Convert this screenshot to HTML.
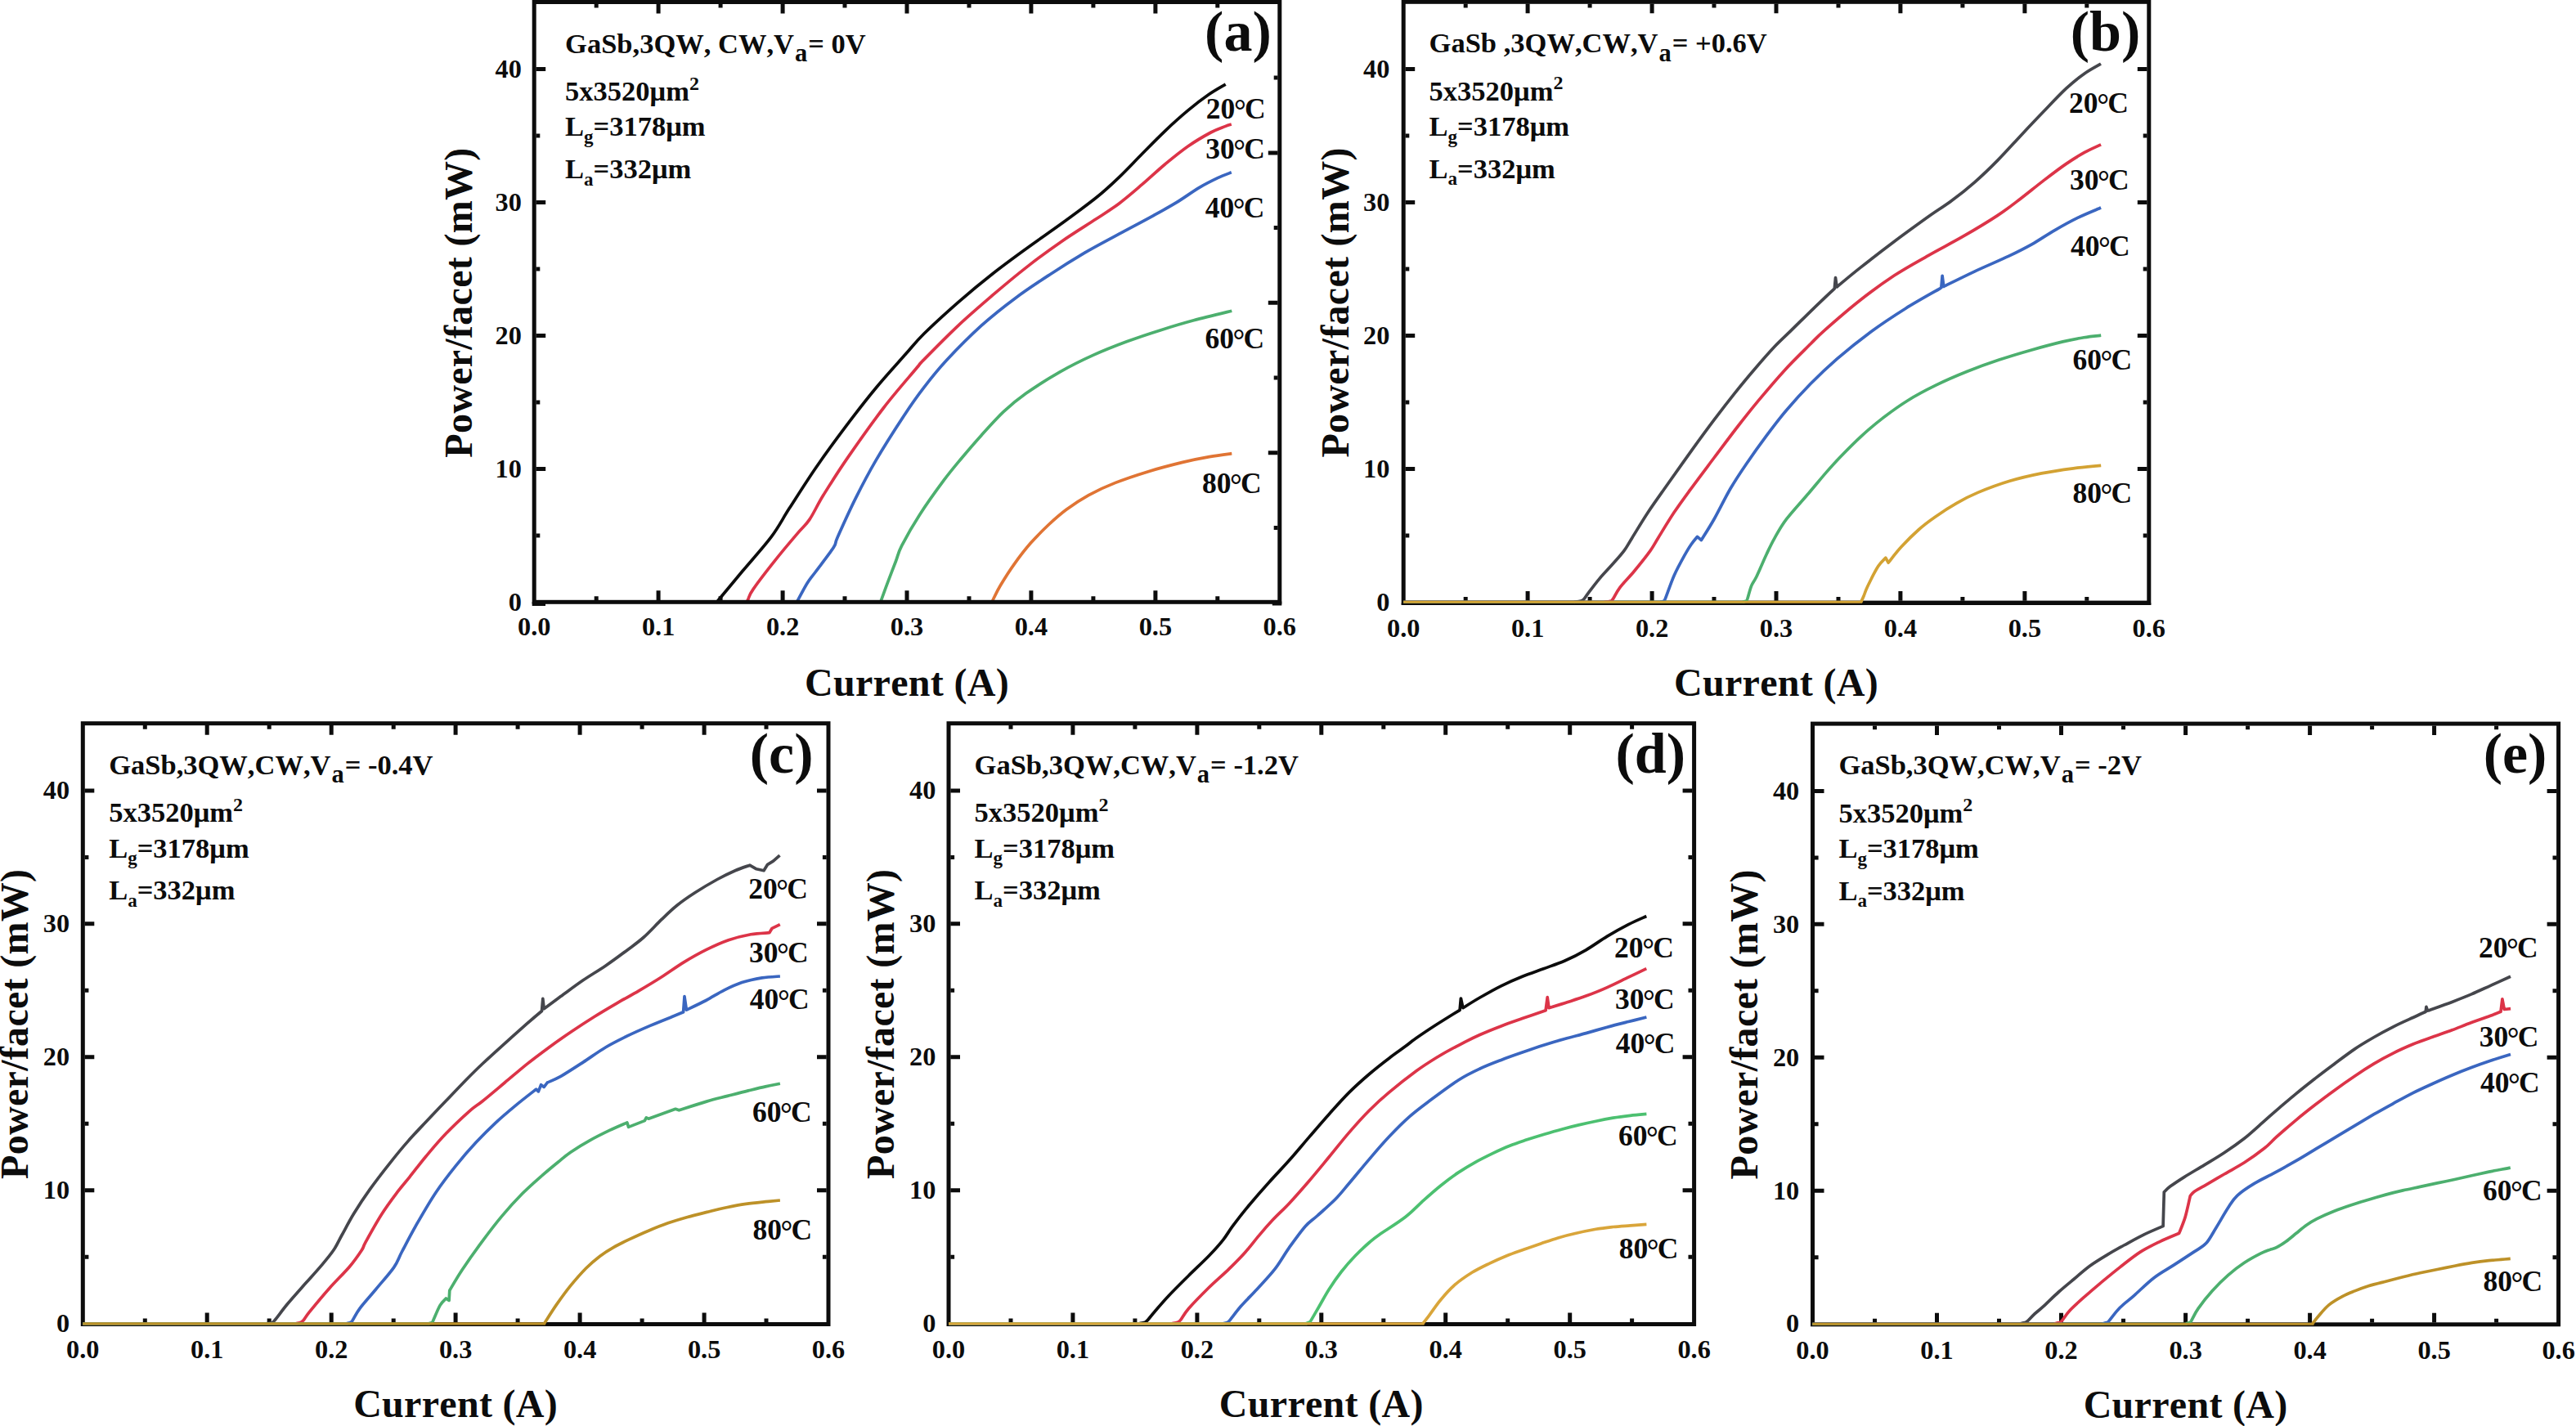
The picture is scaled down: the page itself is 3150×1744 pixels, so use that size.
<!DOCTYPE html>
<html lang="en"><head><meta charset="utf-8"><title>Power/facet versus current at several temperatures</title>
<style>html,body{margin:0;padding:0;background:#fff}body{width:3150px;height:1744px;overflow:hidden}svg{display:block}text{font-kerning:none}</style>
</head><body>
<svg width="3150" height="1744" viewBox="0 0 3150 1744" role="img" aria-label="Power per facet versus current, five panels">
<rect width="3150" height="1744" fill="#fff"/>
<g id="panel-a">
<g fill="none" stroke-width="3.7" stroke-linejoin="round" stroke-linecap="butt">
<path stroke="#0c0c0c" d="M877.6 735C882.6 729 896.8 711.9 907.7 698.8C918.7 685.7 933.7 669.2 943.3 656.4C952.9 643.5 956.3 635.6 965.3 621.6C974.3 607.7 985.8 589.3 997.2 572.7C1008.7 556.1 1021.7 538.2 1034 521.9C1046.3 505.5 1058.6 489.5 1070.9 474.7C1083.2 459.8 1097.9 443.9 1107.7 432.8C1117.5 421.7 1119.3 418.6 1130 408C1140.7 397.4 1158.1 381.6 1172.1 369.3C1186.1 357.1 1200.2 345.5 1214.2 334.5C1228.2 323.5 1242.2 313.4 1256.2 303.2C1270.2 293 1284.3 283.5 1298.3 273.3C1312.3 263.1 1328.7 251.2 1340.4 241.8C1352.1 232.4 1359.1 225.7 1368.4 216.8C1377.8 207.9 1387.2 197.6 1396.5 188.2C1405.8 178.8 1415.2 169.2 1424.5 160.3C1433.8 151.5 1443.7 142.6 1452.6 135.2C1461.5 127.7 1470.1 121.1 1477.8 115.8C1485.5 110.4 1495.2 105.2 1498.7 103.1"/>
<path stroke="#dc3448" d="M913.7 735.5C913.9 735 913.8 735.1 915 732.5C916.2 730 915.7 728.3 921.2 720.4C926.7 712.4 939.2 696.2 948.2 684.9C957.2 673.5 968.2 660.6 975.2 652.4C982.2 644.1 984.6 643.3 989.9 635.4C995.2 627.6 999.2 617.9 1007 605.3C1014.8 592.8 1024.2 577.7 1036.5 559.9C1048.8 542.1 1066.8 516.6 1080.7 498.5C1094.6 480.4 1111.7 461.1 1119.9 451.3C1128.1 441.5 1121.3 448.5 1130 439.6C1138.7 430.7 1158.1 411 1172.1 397.8C1186.1 384.7 1200.2 372.7 1214.2 360.7C1228.2 348.7 1242.2 337 1256.2 326.1C1270.2 315.1 1284.3 304.9 1298.3 295.2C1312.3 285.5 1328.7 275.5 1340.4 267.8C1352.1 260.1 1359.1 255.9 1368.4 248.9C1377.8 241.8 1387.2 233.6 1396.5 225.7C1405.8 217.7 1415.2 208.8 1424.5 201C1433.8 193.3 1443.2 185.5 1452.6 179C1461.9 172.5 1473 166.1 1480.6 162C1488.2 157.9 1493.8 156.3 1498 154.6C1502.2 152.9 1504.5 152.4 1505.8 152"/>
<path stroke="#3a66c0" d="M975 735.5C975.2 735 974.3 736.4 976.4 732.6C978.5 728.8 983.9 718.2 987.4 712.7C990.9 707.2 991.9 706.6 997.2 699.5C1002.5 692.3 1014.8 676.7 1019.3 669.6C1023.8 662.5 1019.7 666.9 1024.2 656.9C1028.7 646.8 1038.5 624.9 1046.3 609.3C1054.1 593.8 1061.1 580.2 1070.9 563.4C1080.7 546.6 1095.4 523.6 1105.2 508.7C1115 493.7 1121.2 485 1130 473.6C1138.8 462.1 1146.3 452.6 1158 440C1169.7 427.5 1186.1 410.9 1200.1 398.2C1214.1 385.6 1228.2 374.6 1242.2 364.2C1256.2 353.7 1270.3 344.6 1284.3 335.5C1298.3 326.3 1312.4 317.5 1326.4 309.2C1340.4 301 1354.4 293.8 1368.4 286.2C1382.4 278.6 1398.8 270.1 1410.5 263.6C1422.2 257.2 1429.2 253.4 1438.6 247.7C1447.9 242 1458.2 234.4 1466.6 229.4C1475 224.4 1482.5 220.8 1489 217.7C1495.5 214.6 1503 211.9 1505.8 210.8"/>
<path stroke="#4caf6e" d="M1077 735.5C1077.2 735 1076.8 736.3 1078.2 732.4C1079.6 728.5 1082.7 719.7 1085.6 712.1C1088.5 704.4 1092.5 694 1095.4 686.5C1098.3 679 1097.9 676.7 1102.8 667.2C1107.7 657.6 1116.2 642.5 1124.8 629.2C1133.4 615.9 1145.7 598.8 1154.3 587.2C1162.9 575.7 1168.8 568.9 1176.4 559.7C1184 550.6 1191.5 541.8 1200 532.4C1208.5 523 1218.2 512 1227.3 503.4C1236.4 494.9 1243.3 489.2 1254.7 481.1C1266.1 473.1 1282 462.9 1295.7 455.1C1309.4 447.3 1323 440.6 1336.7 434.4C1350.4 428.2 1364 422.9 1377.7 417.8C1391.4 412.7 1405 408.2 1418.7 403.9C1432.4 399.6 1445.1 395.7 1459.7 391.8C1474.3 387.8 1498.5 382.1 1506.3 380.2"/>
<path stroke="#e07434" d="M1213.5 735.5C1213.8 734.9 1213.4 735.2 1215 732C1216.6 728.8 1218.9 723.4 1223.2 716.2C1227.5 709 1234.8 697.4 1241 688.8C1247.2 680.2 1253.4 672.1 1260.2 664.3C1267 656.6 1274.7 648.9 1282 642C1289.3 635.2 1295.7 629.4 1303.9 623.3C1312.1 617.2 1321.2 611.1 1331.2 605.6C1341.2 600.1 1351.7 595.2 1364 590.4C1376.3 585.5 1391.3 580.6 1405 576.4C1418.7 572.3 1433.8 568.4 1446.1 565.4C1458.4 562.4 1468.9 560.3 1478.9 558.6C1488.9 556.8 1501.7 555.3 1506.3 554.7"/>
</g>
<rect x="653.2" y="2.5" width="911.6" height="733.8" fill="none" stroke="#0c0c0c" stroke-width="5"/>
<path d="M729.2 734v-4.8M729.2 4.8v4.8M805.1 734v-11.7M805.1 4.8v11.7M881.1 734v-4.8M881.1 4.8v4.8M957.1 734v-11.7M957.1 4.8v11.7M1033 734v-4.8M1033 4.8v4.8M1109 734v-11.7M1109 4.8v11.7M1185 734v-4.8M1185 4.8v4.8M1260.9 734v-11.7M1260.9 4.8v11.7M1336.9 734v-4.8M1336.9 4.8v4.8M1412.9 734v-11.7M1412.9 4.8v11.7M1488.8 734v-4.8M1488.8 4.8v4.8M655.5 654.9h4.8M655.5 573.4h11.7M655.5 492h4.8M655.5 410.5h11.7M655.5 329h4.8M655.5 247.5h11.7M655.5 166.1h4.8M655.5 84.6h11.7M1562.5 645.5h-4.8M1562.5 553.7h-11.7M1562.5 462h-4.8M1562.5 370.3h-11.7M1562.5 278.6h-4.8M1562.5 186.9h-11.7M1562.5 95.1h-4.8M650.7 738.4h16.3M1567.3 738h-11.5" fill="none" stroke="#0c0c0c" stroke-width="5"/>
<g font-family="'Liberation Serif',serif" font-weight="bold" font-size="32.3" fill="#0c0c0c">
<text x="653.2" y="776.8" text-anchor="middle">0.0</text>
<text x="805.1" y="776.8" text-anchor="middle">0.1</text>
<text x="957.1" y="776.8" text-anchor="middle">0.2</text>
<text x="1109" y="776.8" text-anchor="middle">0.3</text>
<text x="1260.9" y="776.8" text-anchor="middle">0.4</text>
<text x="1412.9" y="776.8" text-anchor="middle">0.5</text>
<text x="1564.8" y="776.8" text-anchor="middle">0.6</text>
<text x="637.9" y="746.6" text-anchor="end">0</text>
<text x="637.9" y="583.6" text-anchor="end">10</text>
<text x="637.9" y="420.7" text-anchor="end">20</text>
<text x="637.9" y="257.7" text-anchor="end">30</text>
<text x="637.9" y="94.8" text-anchor="end">40</text>
</g>
<text font-family="'Liberation Serif',serif" font-weight="bold" font-size="48" fill="#0c0c0c" x="1109" y="851" text-anchor="middle" letter-spacing="0.3">Current (A)</text>
<text font-family="'Liberation Serif',serif" font-weight="bold" font-size="48" fill="#0c0c0c" transform="translate(577.2 370.1) rotate(-90)" text-anchor="middle" letter-spacing="0.3">Power/facet (mW)</text>
<g font-family="'Liberation Serif',serif" font-weight="bold" font-size="34.5" fill="#0c0c0c">
<text x="691.1" y="64.5">GaSb,3QW, CW,V<tspan dx="1" dy="10.3" font-size="30.5">a</tspan><tspan dx="1" dy="-10.3">= 0V</tspan></text>
<text x="691.1" y="122.9">5x3520μm<tspan dy="-13.4" font-size="24">2</tspan></text>
<text x="691.1" y="166.4">L<tspan dy="8.5" font-size="23">g</tspan><tspan dy="-8.5">=3178μm</tspan></text>
<text x="691.1" y="218">L<tspan dy="8.5" font-size="23">a</tspan><tspan dy="-8.5">=332μm</tspan></text>
</g>
<g font-family="'Liberation Serif',serif" font-weight="bold" font-size="35.5" fill="#0c0c0c">
<text x="1474.8" y="144.8">20<tspan dx="-1.4" dy="3.0" font-size="37">°</tspan><tspan dx="-1.8" dy="-3.0">C</tspan></text>
<text x="1474.2" y="194.2">30<tspan dx="-1.4" dy="3.0" font-size="37">°</tspan><tspan dx="-1.8" dy="-3.0">C</tspan></text>
<text x="1473.7" y="265.8">40<tspan dx="-1.4" dy="3.0" font-size="37">°</tspan><tspan dx="-1.8" dy="-3.0">C</tspan></text>
<text x="1473.4" y="426.3">60<tspan dx="-1.4" dy="3.0" font-size="37">°</tspan><tspan dx="-1.8" dy="-3.0">C</tspan></text>
<text x="1469.9" y="602.8">80<tspan dx="-1.4" dy="3.0" font-size="37">°</tspan><tspan dx="-1.8" dy="-3.0">C</tspan></text>
</g>
<text font-family="'Liberation Serif',serif" font-weight="bold" font-size="70" fill="#0c0c0c" x="1473.1" y="61.8">(a)</text>
</g>
<g id="panel-b">
<rect x="1716.2" y="2.3" width="911.6" height="734.8" fill="none" stroke="#0c0c0c" stroke-width="5"/>
<path d="M1713.7 738.7H2630.3" fill="none" stroke="#0c0c0c" stroke-width="2.6"/>
<path d="M1792.2 734.8v-4.8M1792.2 4.6v4.8M1868.1 734.8v-11.7M1868.1 4.6v11.7M1944.1 734.8v-4.8M1944.1 4.6v4.8M2020.1 734.8v-11.7M2020.1 4.6v11.7M2096 734.8v-4.8M2096 4.6v4.8M2172 734.8v-11.7M2172 4.6v11.7M2248 734.8v-4.8M2248 4.6v4.8M2323.9 734.8v-11.7M2323.9 4.6v11.7M2399.9 734.8v-4.8M2399.9 4.6v4.8M2475.9 734.8v-11.7M2475.9 4.6v11.7M2551.8 734.8v-4.8M2551.8 4.6v4.8M1718.5 654.9h4.8M2625.5 654.9h-4.8M1718.5 573.4h11.7M2625.5 573.4h-11.7M1718.5 492h4.8M2625.5 492h-4.8M1718.5 410.5h11.7M2625.5 410.5h-11.7M1718.5 329h4.8M2625.5 329h-4.8M1718.5 247.5h11.7M2625.5 247.5h-11.7M1718.5 166.1h4.8M2625.5 166.1h-4.8M1718.5 84.6h11.7M2625.5 84.6h-11.7" fill="none" stroke="#0c0c0c" stroke-width="5"/>
<g fill="none" stroke-width="3.7" stroke-linejoin="round" stroke-linecap="butt">
<path stroke="#45464c" stroke-width="2.9" d="M1716.2 736.2H1926.5"/>
<path stroke="#45464c" d="M1925 736.3C1926.3 736.1 1931 735.6 1933 735C1935 734.4 1935.1 734.6 1936.8 732.8C1938.5 731.1 1939.6 728.6 1942.9 724.3C1946.2 720 1951.7 712.7 1956.4 707.1C1961.1 701.5 1966.3 696.3 1971.2 690.8C1976.1 685.2 1981.8 679.1 1985.9 673.6C1990 668.2 1990.8 665.8 1995.7 657.9C2000.6 650.1 2007.9 637.7 2015.3 626.5C2022.7 615.4 2030.9 604.1 2039.9 591.3C2048.9 578.6 2059.9 563 2069.3 549.9C2078.7 536.9 2087.7 524.6 2096.3 513.2C2104.9 501.7 2112.7 491.6 2120.9 481.3C2129.1 471.1 2137.2 461.2 2145.4 451.7C2153.6 442.1 2162.5 431.9 2169.9 424C2177.3 416.2 2182 412.3 2190 404.4C2198 396.6 2209.2 385.4 2218.1 376.8C2227 368.2 2239.1 356.8 2243.3 352.8L2244.5 339.6L2246.1 351C2250.8 347.1 2262.5 337.1 2274.2 327.9C2285.9 318.6 2302.2 306 2316.2 295.5C2330.2 285 2346.6 273.2 2358.3 264.8C2370 256.5 2377.1 252.5 2386.4 245.5C2395.8 238.6 2405.1 231.3 2414.4 223.1C2423.8 214.9 2433.2 205.9 2442.5 196.4C2451.8 187 2461.2 176.4 2470.5 166.4C2479.8 156.5 2489.2 146.5 2498.6 136.8C2507.9 127.1 2518.2 116 2526.6 108.2C2535 100.4 2541.9 94.9 2549 89.9C2556.1 84.9 2565.7 80 2569 78"/>
<path stroke="#dc3448" stroke-width="2.9" d="M1716.2 736.2H1963.5"/>
<path stroke="#dc3448" d="M1962 736.3C1963.2 736.1 1967.3 735.8 1969 735.2C1970.7 734.6 1970.4 735.5 1972.4 732.6C1974.4 729.8 1976.7 724 1981 718.3C1985.3 712.6 1992.1 706.1 1998.2 698.7C2004.3 691.3 2012.9 680.6 2017.8 673.8C2022.7 667 2022.7 665.8 2027.6 657.9C2032.5 650 2040.7 636.4 2047.2 626.6C2053.8 616.7 2058.7 610.1 2066.9 598.9C2075.1 587.7 2086.5 572.6 2096.3 559.5C2106.1 546.5 2116.8 532.1 2125.8 520.5C2134.8 508.9 2140.9 501.2 2150.3 489.9C2159.7 478.6 2171.6 464.5 2182.2 452.9C2192.8 441.3 2205.8 428.8 2214.1 420.5C2222.4 412.2 2222.1 411.9 2232.1 403.1C2242.1 394.3 2260.2 378.5 2274.2 367.5C2288.2 356.5 2302.2 346.2 2316.2 337C2330.2 327.8 2344.3 320.3 2358.3 312.3C2372.3 304.3 2386.4 297.3 2400.4 289.2C2414.4 281.1 2430.8 271.3 2442.5 263.6C2454.2 256 2461.2 250.3 2470.5 243.2C2479.8 236.1 2489.2 228.3 2498.6 221.1C2507.9 214 2518.2 206.1 2526.6 200.4C2535 194.6 2541.9 190.4 2549 186.4C2556.1 182.5 2565.7 178.4 2569.1 176.8"/>
<path stroke="#3a66c0" stroke-width="2.9" d="M1716.2 736.2H2031.5"/>
<path stroke="#3a66c0" d="M2030 736.3C2030.7 736.1 2033 735.9 2034 735.2C2035 734.6 2034 737.8 2036.2 732.6C2038.4 727.3 2043.3 712.5 2047.2 703.7C2051.1 695 2056 686.2 2059.5 679.9C2063 673.6 2065.4 669.6 2068.1 665.7C2070.8 661.7 2074.3 657.9 2075.5 656.4L2080.4 660.6C2083.1 656.2 2090.4 644.9 2096.3 634.5C2102.2 624 2109.4 609 2115.9 597.8C2122.4 586.6 2128.2 578 2135.6 567.2C2143 556.4 2151.9 543.9 2160.1 532.9C2168.3 521.9 2175.7 512 2184.7 501.5C2193.7 490.9 2203.9 479.7 2214.1 469.3C2224.3 458.9 2233.8 449.8 2246.1 439.1C2258.4 428.5 2274.2 415.8 2288.2 405.5C2302.2 395.2 2316.3 386 2330.3 377.2C2344.3 368.4 2365.3 356.9 2372.3 352.8L2373.8 351.8L2375.1 337.3L2376.8 350.5C2383.1 347.4 2401.1 338.3 2414.4 332.1C2427.7 325.9 2444.8 318.7 2456.5 313.2C2468.2 307.6 2475.2 304.1 2484.5 298.9C2493.8 293.6 2503.2 287 2512.6 281.6C2521.9 276.2 2531.2 271 2540.6 266.4C2550 261.8 2564.3 256.1 2569.1 254"/>
<path stroke="#4caf6e" stroke-width="2.9" d="M1716.2 736.2H2132.5"/>
<path stroke="#4caf6e" d="M2131 736.3C2131.7 736.1 2134 735.8 2135 735.2C2136 734.6 2135.7 735.6 2136.8 732.5C2137.9 729.4 2139.8 721 2141.7 716.4C2143.5 711.9 2144.8 711.6 2147.9 705.2C2151 698.8 2156.4 685.8 2160.1 678C2163.8 670.2 2165.8 665.5 2169.9 658.3C2174 651.1 2177.7 643.9 2184.7 634.7C2191.7 625.6 2203.5 612.8 2211.7 603.2C2219.9 593.6 2227.3 584.4 2233.7 577.1C2240.1 569.8 2243 566.5 2250 559.2C2257 552 2267.2 541.6 2275.9 533.6C2284.6 525.7 2292.4 518.9 2301.9 511.6C2311.4 504.3 2322.2 496.4 2333 489.7C2343.8 483 2354.6 477.3 2366.7 471.4C2378.8 465.5 2392.6 459.5 2405.6 454.3C2418.6 449.1 2431.6 444.4 2444.6 440.1C2457.6 435.7 2470.5 431.9 2483.5 428.2C2496.5 424.5 2511.6 420.5 2522.4 417.9C2533.2 415.3 2540.5 414 2548.3 412.7C2556.1 411.4 2565.7 410.6 2569.2 410.2"/>
<path stroke="#d3a233" stroke-width="2.9" d="M1716.2 736.2H2277.2"/>
<path stroke="#d3a233" d="M2275.7 736.3C2276.3 735 2277.8 732 2279.1 728.8C2280.4 725.6 2280.8 723.2 2283.7 717.2C2286.6 711.2 2293 698.4 2296.7 692.6C2300.4 686.8 2304.3 683.9 2305.8 682.2L2309.1 688.2C2311.8 684.9 2319 675.3 2325.2 668.6C2331.3 661.9 2339.1 654.1 2346 648C2352.9 641.8 2358.9 637.4 2366.7 632C2374.5 626.5 2384 620.3 2392.7 615.4C2401.3 610.4 2407.8 606.9 2418.6 602.4C2429.4 597.9 2444.5 592.2 2457.5 588.3C2470.5 584.4 2483.4 581.5 2496.4 578.9C2509.4 576.3 2523.2 574.4 2535.3 572.8C2547.4 571.2 2563.5 569.8 2569.2 569.3"/>
</g>
<g font-family="'Liberation Serif',serif" font-weight="bold" font-size="32.3" fill="#0c0c0c">
<text x="1716.2" y="779" text-anchor="middle">0.0</text>
<text x="1868.1" y="779" text-anchor="middle">0.1</text>
<text x="2020.1" y="779" text-anchor="middle">0.2</text>
<text x="2172" y="779" text-anchor="middle">0.3</text>
<text x="2323.9" y="779" text-anchor="middle">0.4</text>
<text x="2475.9" y="779" text-anchor="middle">0.5</text>
<text x="2627.8" y="779" text-anchor="middle">0.6</text>
<text x="1699.4" y="746.6" text-anchor="end">0</text>
<text x="1699.4" y="583.6" text-anchor="end">10</text>
<text x="1699.4" y="420.7" text-anchor="end">20</text>
<text x="1699.4" y="257.7" text-anchor="end">30</text>
<text x="1699.4" y="94.8" text-anchor="end">40</text>
</g>
<text font-family="'Liberation Serif',serif" font-weight="bold" font-size="48" fill="#0c0c0c" x="2172" y="851" text-anchor="middle" letter-spacing="0.3">Current (A)</text>
<text font-family="'Liberation Serif',serif" font-weight="bold" font-size="48" fill="#0c0c0c" transform="translate(1648.6 369.9) rotate(-90)" text-anchor="middle" letter-spacing="0.3">Power/facet (mW)</text>
<g font-family="'Liberation Serif',serif" font-weight="bold" font-size="34.5" fill="#0c0c0c">
<text x="1747.6" y="64.3">GaSb ,3QW,CW,V<tspan dx="1" dy="10.3" font-size="30.5">a</tspan><tspan dx="1" dy="-10.3">= +0.6V</tspan></text>
<text x="1747.6" y="122.7">5x3520μm<tspan dy="-13.4" font-size="24">2</tspan></text>
<text x="1747.6" y="166.2">L<tspan dy="8.5" font-size="23">g</tspan><tspan dy="-8.5">=3178μm</tspan></text>
<text x="1747.6" y="217.8">L<tspan dy="8.5" font-size="23">a</tspan><tspan dy="-8.5">=332μm</tspan></text>
</g>
<g font-family="'Liberation Serif',serif" font-weight="bold" font-size="35.5" fill="#0c0c0c">
<text x="2530.1" y="137.6">20<tspan dx="-1.4" dy="3.0" font-size="37">°</tspan><tspan dx="-1.8" dy="-3.0">C</tspan></text>
<text x="2530.9" y="231.8">30<tspan dx="-1.4" dy="3.0" font-size="37">°</tspan><tspan dx="-1.8" dy="-3.0">C</tspan></text>
<text x="2532" y="313.4">40<tspan dx="-1.4" dy="3.0" font-size="37">°</tspan><tspan dx="-1.8" dy="-3.0">C</tspan></text>
<text x="2534.5" y="451.8">60<tspan dx="-1.4" dy="3.0" font-size="37">°</tspan><tspan dx="-1.8" dy="-3.0">C</tspan></text>
<text x="2534.5" y="615.4">80<tspan dx="-1.4" dy="3.0" font-size="37">°</tspan><tspan dx="-1.8" dy="-3.0">C</tspan></text>
</g>
<text font-family="'Liberation Serif',serif" font-weight="bold" font-size="70" fill="#0c0c0c" x="2531.7" y="62.2">(b)</text>
</g>
<g id="panel-c">
<rect x="101.3" y="884.7" width="911.7" height="734.8" fill="none" stroke="#0c0c0c" stroke-width="5"/>
<path d="M177.3 1617.2v-4.8M177.3 887v4.8M253.2 1617.2v-11.7M253.2 887v11.7M329.2 1617.2v-4.8M329.2 887v4.8M405.2 1617.2v-11.7M405.2 887v11.7M481.2 1617.2v-4.8M481.2 887v4.8M557.1 1617.2v-11.7M557.1 887v11.7M633.1 1617.2v-4.8M633.1 887v4.8M709.1 1617.2v-11.7M709.1 887v11.7M785.1 1617.2v-4.8M785.1 887v4.8M861.1 1617.2v-11.7M861.1 887v11.7M937 1617.2v-4.8M937 887v4.8M103.6 1537.2h4.8M1010.7 1537.2h-4.8M103.6 1455.8h11.7M1010.7 1455.8h-11.7M103.6 1374.3h4.8M1010.7 1374.3h-4.8M103.6 1292.8h11.7M1010.7 1292.8h-11.7M103.6 1211.3h4.8M1010.7 1211.3h-4.8M103.6 1129.8h11.7M1010.7 1129.8h-11.7M103.6 1048.4h4.8M1010.7 1048.4h-4.8M103.6 966.9h11.7M1010.7 966.9h-11.7" fill="none" stroke="#0c0c0c" stroke-width="5"/>
<g fill="none" stroke-width="3.7" stroke-linejoin="round" stroke-linecap="butt">
<path stroke="#45464c" stroke-width="3.1" d="M101.3 1618.9H327.5"/>
<path stroke="#45464c" d="M326 1618.7C327 1618.5 330.4 1618.3 332 1617.6C333.6 1617 332.4 1618.9 335.6 1615.1C338.9 1611.3 345.2 1602.4 351.5 1594.8C357.8 1587.2 366.6 1577.5 373.6 1569.6C380.6 1561.7 387.6 1554.2 393.3 1547.4C399 1540.6 403.9 1534.9 408 1528.8C412.1 1522.8 413.7 1518.4 417.8 1511C421.9 1503.6 426.8 1493.9 432.5 1484.5C438.2 1475.2 444.7 1465.2 452.1 1454.9C459.5 1444.6 468.9 1432.4 476.7 1422.6C484.5 1412.7 491.4 1404.3 498.8 1395.9C506.2 1387.4 513.1 1380.3 520.9 1372C528.7 1363.8 537.2 1354.8 545.4 1346.3C553.6 1337.7 562.5 1328.3 569.9 1320.7C577.3 1313.2 582.1 1308.4 590 1301C597.9 1293.6 608.2 1284.3 617.3 1276.1C626.4 1267.9 637.2 1258.3 644.7 1251.7C652.2 1245.1 659.5 1239 662.5 1236.5L663.8 1221.4L665.2 1233.7C668.6 1231.2 677.7 1224.5 685.7 1218.6C693.7 1212.8 704 1205 713.1 1198.8C722.2 1192.6 731.3 1187.4 740.4 1181.2C749.5 1175 760 1167.2 767.7 1161.4C775.5 1155.6 780 1152.6 786.9 1146.5C793.8 1140.4 802 1131.3 808.8 1124.7C815.6 1118.2 821.1 1112.8 827.9 1107.3C834.7 1101.8 841.6 1097.1 849.8 1091.8C858 1086.5 868.9 1080 877.1 1075.5C885.3 1071 892.4 1067.6 899 1064.7C905.6 1061.8 913.8 1059.3 916.8 1058.2L925 1062.8L934 1064.7L938.6 1057.3L945.5 1053.2L953.5 1046.1"/>
<path stroke="#dc3448" stroke-width="3.1" d="M101.3 1618.9H363.5"/>
<path stroke="#dc3448" d="M362 1618.7C363 1618.4 366.5 1617.8 368 1617.1C369.5 1616.4 369.4 1616.6 371.2 1614.5C372.9 1612.4 373.2 1611 378.5 1604.4C383.8 1597.9 394.9 1584.4 403.1 1575.2C411.3 1566 421.1 1556.7 427.6 1549C434.1 1541.3 439 1534 442.3 1529C445.6 1524 443.1 1526.3 447.2 1518.9C451.3 1511.5 460.3 1495.1 466.9 1484.8C473.4 1474.5 480.8 1464.8 486.5 1457.2C492.2 1449.6 495.5 1446.3 501.2 1439.1C506.9 1432 513.5 1423 520.9 1414.2C528.3 1405.4 536.6 1395.4 545.4 1386.3C554.2 1377.1 566.2 1365.9 573.6 1359.3C581 1352.7 582.7 1352.6 590 1346.7C597.3 1340.8 608.2 1331.6 617.3 1324C626.4 1316.4 635.6 1308.4 644.7 1301.1C653.8 1293.8 662.9 1287.1 672 1280.4C681.1 1273.8 690.3 1267.4 699.4 1261.3C708.5 1255.1 717.6 1249.2 726.7 1243.5C735.8 1237.8 745 1232.4 754.1 1227.1C763.2 1221.8 772.3 1217 781.4 1211.6C790.5 1206.3 799.7 1200.8 808.8 1195C817.9 1189.2 827 1182.5 836.1 1176.9C845.2 1171.4 854.3 1166.2 863.4 1161.7C872.5 1157.2 881.7 1153 890.8 1149.8C899.9 1146.7 909.8 1144.3 918.1 1142.8C926.4 1141.3 937 1141.1 940.8 1140.7L944.1 1135.3L953.8 1130.6"/>
<path stroke="#3a66c0" stroke-width="3.1" d="M101.3 1618.9H425.5"/>
<path stroke="#3a66c0" d="M424 1618.7C424.8 1618.4 427.8 1617.8 429 1617.1C430.2 1616.4 429.5 1617.4 431.3 1614.6C433.1 1611.8 435.2 1606.6 439.9 1600.3C444.6 1594 452.6 1585.3 459.5 1577C466.4 1568.6 476.3 1557.7 481.6 1550.1C486.9 1542.4 486.9 1539.6 491.4 1531C495.9 1522.5 501.7 1511 508.6 1498.9C515.6 1486.7 524.9 1470.4 533.1 1458.2C541.3 1445.9 549.5 1435.5 557.7 1425.3C565.9 1415.2 574 1405.9 582.2 1397.1C590.4 1388.3 598.5 1380.2 606.7 1372.6C614.9 1365 623.1 1358.2 631.3 1351.4C639.4 1344.7 651.5 1335.4 655.6 1332.2L658.4 1334.9L661.6 1326.7L665.2 1329.4L669.3 1324C672 1322.7 678.4 1320.5 685.7 1316.4C693 1312.2 704 1305 713.1 1299.1C722.2 1293.2 731.3 1286.4 740.4 1281C749.5 1275.6 758.6 1271.2 767.7 1266.7C776.8 1262.3 786 1258.3 795.1 1254.4C804.2 1250.5 815.6 1246 822.4 1243.3C829.1 1240.5 833.4 1238.7 835.6 1237.8L837 1218.7L839.4 1235.1C843.4 1233.2 855.8 1227.5 863.4 1223.5C871 1219.5 878 1214.7 885.3 1211.1C892.6 1207.5 899.5 1204.2 907.2 1201.6C915 1199.1 924 1197.2 931.8 1195.9C939.6 1194.7 950.2 1194.3 953.9 1194"/>
<path stroke="#4caf6e" stroke-width="3.1" d="M101.3 1618.9H525.5"/>
<path stroke="#4caf6e" d="M524 1618.7C524.7 1618.5 527.1 1618 528 1617.5C528.9 1617 527.7 1619.2 529.4 1615.7C531.1 1612.2 535.3 1601.2 538 1596.6C540.7 1592 544.2 1589.4 545.4 1588L549.1 1590.4L549.8 1578.2C552.3 1574 558.4 1563.2 565 1553.2C571.6 1543.3 581.4 1529.4 589.6 1518.4C597.8 1507.3 605.9 1496.6 614.1 1486.9C622.3 1477.1 630.5 1468.1 638.7 1459.8C646.9 1451.6 655.9 1443.8 663.2 1437.4C670.6 1430.9 677 1425.7 682.8 1421C688.5 1416.3 691.2 1413.6 697.7 1409.2C704.2 1404.8 713.5 1399 721.5 1394.6C729.5 1390.1 737.9 1386 745.4 1382.4C752.9 1378.8 763.2 1374.5 766.8 1372.9L768.6 1378.4L788.3 1370.6L790.3 1366.9L793 1368.2L826 1356.3L830.3 1357.8C835.9 1356 854.1 1350 864 1347.1C873.9 1344.2 881.1 1342.6 889.6 1340.4C898.1 1338.2 907.2 1335.8 915 1333.9C922.8 1332 929.6 1330.3 936.1 1328.9C942.6 1327.5 950.9 1325.8 953.9 1325.2"/>
<path stroke="#bd9128" stroke-width="3.1" d="M101.3 1618.9H667"/>
<path stroke="#bd9128" d="M665.5 1618.7C668.1 1614.7 675.6 1602.6 681 1594.9C686.4 1587.2 691.8 1579.7 697.7 1572.4C703.7 1565.1 710.8 1557 716.7 1551C722.7 1545.1 727.8 1540.8 733.4 1536.5C739 1532.3 744.1 1529.1 750.1 1525.7C756.1 1522.2 762.1 1519.3 769.2 1515.9C776.4 1512.5 785 1508.5 793 1505.2C801 1501.8 808.9 1498.6 816.9 1495.8C824.9 1493.1 832.8 1490.7 840.7 1488.5C848.6 1486.3 856.5 1484.4 864.5 1482.4C872.5 1480.4 880.4 1478.3 888.4 1476.7C896.4 1475 904.2 1473.5 912.2 1472.4C920.2 1471.2 929.2 1470.4 936.1 1469.7C943 1469 950.9 1468.3 953.9 1468"/>
</g>
<g font-family="'Liberation Serif',serif" font-weight="bold" font-size="32.3" fill="#0c0c0c">
<text x="101.3" y="1661.3" text-anchor="middle">0.0</text>
<text x="253.2" y="1661.3" text-anchor="middle">0.1</text>
<text x="405.2" y="1661.3" text-anchor="middle">0.2</text>
<text x="557.1" y="1661.3" text-anchor="middle">0.3</text>
<text x="709.1" y="1661.3" text-anchor="middle">0.4</text>
<text x="861.1" y="1661.3" text-anchor="middle">0.5</text>
<text x="1013" y="1661.3" text-anchor="middle">0.6</text>
<text x="85.1" y="1628.9" text-anchor="end">0</text>
<text x="85.1" y="1466" text-anchor="end">10</text>
<text x="85.1" y="1303" text-anchor="end">20</text>
<text x="85.1" y="1140" text-anchor="end">30</text>
<text x="85.1" y="977.1" text-anchor="end">40</text>
</g>
<text font-family="'Liberation Serif',serif" font-weight="bold" font-size="48" fill="#0c0c0c" x="557.1" y="1733.3" text-anchor="middle" letter-spacing="0.3">Current (A)</text>
<text font-family="'Liberation Serif',serif" font-weight="bold" font-size="48" fill="#0c0c0c" transform="translate(33.9 1252.3) rotate(-90)" text-anchor="middle" letter-spacing="0.3">Power/facet (mW)</text>
<g font-family="'Liberation Serif',serif" font-weight="bold" font-size="34.5" fill="#0c0c0c">
<text x="133.2" y="946.7">GaSb,3QW,CW,V<tspan dx="1" dy="10.3" font-size="30.5">a</tspan><tspan dx="1" dy="-10.3">= -0.4V</tspan></text>
<text x="133.2" y="1005.1">5x3520μm<tspan dy="-13.4" font-size="24">2</tspan></text>
<text x="133.2" y="1048.6">L<tspan dy="8.5" font-size="23">g</tspan><tspan dy="-8.5">=3178μm</tspan></text>
<text x="133.2" y="1100.2">L<tspan dy="8.5" font-size="23">a</tspan><tspan dy="-8.5">=332μm</tspan></text>
</g>
<g font-family="'Liberation Serif',serif" font-weight="bold" font-size="35.5" fill="#0c0c0c">
<text x="915.2" y="1098.6">20<tspan dx="-1.4" dy="3.0" font-size="37">°</tspan><tspan dx="-1.8" dy="-3.0">C</tspan></text>
<text x="916" y="1177">30<tspan dx="-1.4" dy="3.0" font-size="37">°</tspan><tspan dx="-1.8" dy="-3.0">C</tspan></text>
<text x="916.8" y="1233.8">40<tspan dx="-1.4" dy="3.0" font-size="37">°</tspan><tspan dx="-1.8" dy="-3.0">C</tspan></text>
<text x="919.9" y="1372">60<tspan dx="-1.4" dy="3.0" font-size="37">°</tspan><tspan dx="-1.8" dy="-3.0">C</tspan></text>
<text x="920.5" y="1516">80<tspan dx="-1.4" dy="3.0" font-size="37">°</tspan><tspan dx="-1.8" dy="-3.0">C</tspan></text>
</g>
<text font-family="'Liberation Serif',serif" font-weight="bold" font-size="70" fill="#0c0c0c" x="916.8" y="945.4">(c)</text>
</g>
<g id="panel-d">
<rect x="1160" y="884.7" width="911.6" height="734.8" fill="none" stroke="#0c0c0c" stroke-width="5"/>
<path d="M1236 1617.2v-4.8M1236 887v4.8M1311.9 1617.2v-11.7M1311.9 887v11.7M1387.9 1617.2v-4.8M1387.9 887v4.8M1463.9 1617.2v-11.7M1463.9 887v11.7M1539.8 1617.2v-4.8M1539.8 887v4.8M1615.8 1617.2v-11.7M1615.8 887v11.7M1691.8 1617.2v-4.8M1691.8 887v4.8M1767.7 1617.2v-11.7M1767.7 887v11.7M1843.7 1617.2v-4.8M1843.7 887v4.8M1919.7 1617.2v-11.7M1919.7 887v11.7M1995.6 1617.2v-4.8M1995.6 887v4.8M1162.3 1537.2h4.8M2069.3 1537.2h-4.8M1162.3 1455.8h11.7M2069.3 1455.8h-11.7M1162.3 1374.3h4.8M2069.3 1374.3h-4.8M1162.3 1292.8h11.7M2069.3 1292.8h-11.7M1162.3 1211.3h4.8M2069.3 1211.3h-4.8M1162.3 1129.8h11.7M2069.3 1129.8h-11.7M1162.3 1048.4h4.8M2069.3 1048.4h-4.8M1162.3 966.9h11.7M2069.3 966.9h-11.7" fill="none" stroke="#0c0c0c" stroke-width="5"/>
<g fill="none" stroke-width="3.7" stroke-linejoin="round" stroke-linecap="butt">
<path stroke="#0c0c0c" stroke-width="3.1" d="M1160 1618.9H1394.5"/>
<path stroke="#0c0c0c" d="M1393 1618.7C1394.2 1618.4 1398.3 1617.8 1400 1617.1C1401.7 1616.4 1401.3 1616.8 1403.3 1614.6C1405.3 1612.5 1407.6 1609.1 1411.9 1604.2C1416.2 1599.2 1422.1 1592.1 1429.1 1584.7C1436 1577.4 1445.4 1568.1 1453.6 1560C1461.8 1551.9 1471.2 1543.2 1478.2 1536C1485.2 1528.8 1490.4 1523 1495.3 1516.9C1500.2 1510.7 1502.3 1506.3 1507.6 1499.2C1512.9 1492.1 1519.8 1483.1 1527.2 1474.2C1534.6 1465.4 1543.6 1455.1 1551.8 1446C1560 1436.8 1568.1 1428.6 1576.3 1419.3C1584.5 1410.1 1592.7 1400.1 1600.9 1390.6C1609.1 1381.1 1617.2 1371.5 1625.4 1362.4C1633.6 1353.3 1641.7 1344.1 1649.9 1335.9C1658.1 1327.8 1666.3 1320.5 1674.5 1313.5C1682.7 1306.4 1691.6 1299.5 1699 1293.9C1706.4 1288.2 1713.2 1283.7 1718.7 1279.6C1724.2 1275.6 1725.4 1274 1731.9 1269.5C1738.4 1264.9 1748.9 1257.9 1757.8 1252.2C1766.7 1246.6 1780.5 1238.1 1785.1 1235.3L1786.4 1221L1788.9 1232.7C1792.4 1230.6 1801.9 1224.4 1809.7 1220C1817.5 1215.5 1826.9 1210.1 1835.6 1205.8C1844.2 1201.5 1852.9 1197.7 1861.6 1194.2C1870.2 1190.7 1878.8 1187.9 1887.5 1184.7C1896.2 1181.5 1904.8 1178.8 1913.5 1175C1922.2 1171.2 1930.8 1166.8 1939.4 1161.8C1948 1156.8 1956.7 1150.3 1965.3 1145.1C1973.9 1139.9 1983.3 1134.7 1991.3 1130.6C1999.3 1126.5 2009.6 1122.2 2013.3 1120.5"/>
<path stroke="#dc3448" stroke-width="3.1" d="M1160 1618.9H1434.5"/>
<path stroke="#dc3448" d="M1433 1618.7C1434.2 1618.4 1438.2 1617.9 1440 1617.1C1441.8 1616.4 1441.5 1617 1443.8 1614.2C1446.1 1611.4 1447.9 1606.9 1453.6 1600.3C1459.3 1593.8 1470 1582.9 1478.2 1574.8C1486.4 1566.8 1495.4 1559.2 1502.7 1552.1C1510 1544.9 1516.2 1538.9 1522.3 1532C1528.4 1525.2 1533.8 1517.8 1539.5 1511.1C1545.2 1504.3 1550.6 1498.1 1556.7 1491.6C1562.8 1485 1568.9 1479.8 1576.3 1471.9C1583.7 1464 1592.7 1453.7 1600.9 1444.2C1609.1 1434.7 1617.2 1424.7 1625.4 1414.8C1633.6 1404.9 1641.7 1394.3 1649.9 1384.9C1658.1 1375.4 1666.3 1366.2 1674.5 1358C1682.7 1349.8 1689.4 1343.7 1699 1335.7C1708.6 1327.6 1722.1 1317 1731.9 1309.8C1741.7 1302.6 1749.2 1298 1757.8 1292.7C1766.4 1287.5 1775.1 1282.8 1783.8 1278.3C1792.5 1273.7 1801.1 1269.4 1809.7 1265.5C1818.3 1261.6 1826.9 1258.2 1835.6 1254.9C1844.2 1251.6 1852.5 1248.8 1861.6 1245.6C1870.7 1242.4 1885.3 1237.4 1890.1 1235.8L1892.2 1219.7L1894 1232.7C1897.2 1231.7 1905.9 1229.1 1913.5 1226.7C1921.1 1224.2 1930.8 1221.3 1939.4 1218.1C1948 1214.9 1956.7 1211.5 1965.3 1207.6C1973.9 1203.8 1983.3 1199 1991.3 1195.2C1999.3 1191.3 2009.6 1186.4 2013.3 1184.6"/>
<path stroke="#3a66c0" stroke-width="3.1" d="M1160 1618.9H1497.5"/>
<path stroke="#3a66c0" d="M1496 1618.7C1496.8 1618.4 1499.7 1617.8 1501 1617.2C1502.3 1616.5 1501.2 1617.9 1503.9 1614.6C1506.6 1611.4 1511.9 1603.8 1517.4 1597.5C1522.9 1591.2 1530.1 1584.3 1537.1 1576.7C1544 1569.1 1552.6 1560.3 1559.1 1551.9C1565.6 1543.5 1570.1 1534.8 1576.3 1526.1C1582.5 1517.5 1590.3 1506.5 1596 1500C1601.7 1493.5 1604.6 1492.6 1610.7 1487C1616.8 1481.5 1626.3 1473.4 1632.8 1466.8C1639.3 1460.1 1643 1455.1 1649.9 1447C1656.9 1438.8 1666.3 1427.1 1674.5 1417.6C1682.7 1408 1690.8 1398.4 1699 1389.8C1707.2 1381.1 1715.4 1372.8 1723.6 1365.6C1731.8 1358.4 1738.1 1353.8 1748.1 1346.3C1758.1 1338.8 1773.5 1327.3 1783.8 1320.7C1794.1 1314.2 1801.1 1311 1809.7 1307C1818.3 1302.9 1826.9 1299.7 1835.6 1296.4C1844.2 1293.1 1852.9 1290.1 1861.6 1287.1C1870.2 1284.1 1878.8 1281.1 1887.5 1278.3C1896.2 1275.5 1904.8 1272.9 1913.5 1270.5C1922.2 1268 1930.8 1266 1939.4 1263.6C1948 1261.2 1956.7 1258.6 1965.3 1256.2C1973.9 1253.8 1983.3 1251.5 1991.3 1249.5C1999.3 1247.5 2009.7 1244.9 2013.4 1244"/>
<path stroke="#4cc070" stroke-width="3.1" d="M1160 1618.9H1598.5"/>
<path stroke="#4cc070" d="M1597 1618.7C1597.7 1618.4 1600 1617.8 1601 1617.2C1602 1616.5 1601.3 1617.9 1603.3 1614.6C1605.3 1611.4 1609.4 1604.1 1613.1 1597.7C1616.8 1591.4 1620.9 1583.5 1625.4 1576.5C1629.9 1569.4 1634.8 1562.3 1640.1 1555.5C1645.4 1548.7 1651.6 1541.7 1657.3 1535.8C1663 1529.8 1669.6 1523.8 1674.5 1519.5C1679.4 1515.2 1679.3 1515.1 1686.7 1509.9C1694.1 1504.7 1709.7 1495.3 1718.7 1488.2C1727.8 1481.2 1733.8 1474.2 1741 1467.8C1748.2 1461.4 1755.1 1455.3 1762.1 1449.7C1769.1 1444.1 1776.1 1438.8 1783.1 1434.1C1790.1 1429.4 1797.2 1425.2 1804.2 1421.3C1811.2 1417.4 1818.2 1414 1825.2 1410.6C1832.2 1407.3 1839.2 1404.1 1846.2 1401.3C1853.2 1398.5 1860.3 1396.2 1867.3 1393.8C1874.3 1391.5 1881.3 1389.4 1888.3 1387.3C1895.3 1385.2 1902.4 1383.1 1909.4 1381.2C1916.4 1379.3 1923.4 1377.5 1930.4 1375.9C1937.4 1374.2 1944.5 1372.6 1951.5 1371.2C1958.5 1369.7 1965.5 1368.3 1972.5 1367.1C1979.5 1366 1986.7 1365.1 1993.5 1364.3C2000.3 1363.5 2010.1 1362.7 2013.4 1362.4"/>
<path stroke="#d9a53a" stroke-width="3.1" d="M1160 1618.9H1741.5"/>
<path stroke="#d9a53a" d="M1740 1618.7C1741.2 1617.1 1743.7 1614 1747.4 1609.1C1751.1 1604.1 1756.8 1595.4 1762.1 1589.2C1767.3 1582.9 1772.6 1576.9 1778.9 1571.4C1785.2 1566 1793 1560.7 1800 1556.3C1807 1552 1814 1548.7 1821 1545.3C1828 1542 1835 1538.9 1842 1536C1849 1533.2 1856.1 1530.8 1863.1 1528.3C1870.1 1525.8 1877.1 1523.4 1884.1 1521C1891.1 1518.6 1898.2 1516 1905.2 1513.9C1912.2 1511.8 1918.5 1510.2 1926.2 1508.5C1933.9 1506.7 1943.8 1504.7 1951.5 1503.3C1959.2 1502 1965.5 1501.3 1972.5 1500.5C1979.5 1499.8 1986.7 1499.4 1993.5 1498.9C2000.3 1498.3 2010.1 1497.6 2013.4 1497.3"/>
</g>
<g font-family="'Liberation Serif',serif" font-weight="bold" font-size="32.3" fill="#0c0c0c">
<text x="1160" y="1661.3" text-anchor="middle">0.0</text>
<text x="1311.9" y="1661.3" text-anchor="middle">0.1</text>
<text x="1463.9" y="1661.3" text-anchor="middle">0.2</text>
<text x="1615.8" y="1661.3" text-anchor="middle">0.3</text>
<text x="1767.7" y="1661.3" text-anchor="middle">0.4</text>
<text x="1919.7" y="1661.3" text-anchor="middle">0.5</text>
<text x="2071.6" y="1661.3" text-anchor="middle">0.6</text>
<text x="1144.4" y="1628.9" text-anchor="end">0</text>
<text x="1144.4" y="1466" text-anchor="end">10</text>
<text x="1144.4" y="1303" text-anchor="end">20</text>
<text x="1144.4" y="1140" text-anchor="end">30</text>
<text x="1144.4" y="977.1" text-anchor="end">40</text>
</g>
<text font-family="'Liberation Serif',serif" font-weight="bold" font-size="48" fill="#0c0c0c" x="1615.8" y="1733.3" text-anchor="middle" letter-spacing="0.3">Current (A)</text>
<text font-family="'Liberation Serif',serif" font-weight="bold" font-size="48" fill="#0c0c0c" transform="translate(1092.6 1252.3) rotate(-90)" text-anchor="middle" letter-spacing="0.3">Power/facet (mW)</text>
<g font-family="'Liberation Serif',serif" font-weight="bold" font-size="34.5" fill="#0c0c0c">
<text x="1191.6" y="946.7">GaSb,3QW,CW,V<tspan dx="1" dy="10.3" font-size="30.5">a</tspan><tspan dx="1" dy="-10.3">= -1.2V</tspan></text>
<text x="1191.6" y="1005.1">5x3520μm<tspan dy="-13.4" font-size="24">2</tspan></text>
<text x="1191.6" y="1048.6">L<tspan dy="8.5" font-size="23">g</tspan><tspan dy="-8.5">=3178μm</tspan></text>
<text x="1191.6" y="1100.2">L<tspan dy="8.5" font-size="23">a</tspan><tspan dy="-8.5">=332μm</tspan></text>
</g>
<g font-family="'Liberation Serif',serif" font-weight="bold" font-size="35.5" fill="#0c0c0c">
<text x="1974.1" y="1171.2">20<tspan dx="-1.4" dy="3.0" font-size="37">°</tspan><tspan dx="-1.8" dy="-3.0">C</tspan></text>
<text x="1974.9" y="1233.5">30<tspan dx="-1.4" dy="3.0" font-size="37">°</tspan><tspan dx="-1.8" dy="-3.0">C</tspan></text>
<text x="1975.7" y="1287.9">40<tspan dx="-1.4" dy="3.0" font-size="37">°</tspan><tspan dx="-1.8" dy="-3.0">C</tspan></text>
<text x="1978.9" y="1400.8">60<tspan dx="-1.4" dy="3.0" font-size="37">°</tspan><tspan dx="-1.8" dy="-3.0">C</tspan></text>
<text x="1979.7" y="1538.6">80<tspan dx="-1.4" dy="3.0" font-size="37">°</tspan><tspan dx="-1.8" dy="-3.0">C</tspan></text>
</g>
<text font-family="'Liberation Serif',serif" font-weight="bold" font-size="70" fill="#0c0c0c" x="1975.4" y="945.4">(d)</text>
</g>
<g id="panel-e">
<rect x="2216.5" y="885.1" width="912.1" height="734.7" fill="none" stroke="#0c0c0c" stroke-width="5"/>
<path d="M2292.5 1617.5v-4.8M2292.5 887.4v4.8M2368.5 1617.5v-11.7M2368.5 887.4v11.7M2444.5 1617.5v-4.8M2444.5 887.4v4.8M2520.5 1617.5v-11.7M2520.5 887.4v11.7M2596.5 1617.5v-4.8M2596.5 887.4v4.8M2672.6 1617.5v-11.7M2672.6 887.4v11.7M2748.6 1617.5v-4.8M2748.6 887.4v4.8M2824.6 1617.5v-11.7M2824.6 887.4v11.7M2900.6 1617.5v-4.8M2900.6 887.4v4.8M2976.6 1617.5v-11.7M2976.6 887.4v11.7M3052.6 1617.5v-4.8M3052.6 887.4v4.8M2218.8 1537.7h4.8M3126.3 1537.7h-4.8M2218.8 1456.2h11.7M3126.3 1456.2h-11.7M2218.8 1374.8h4.8M3126.3 1374.8h-4.8M2218.8 1293.3h11.7M3126.3 1293.3h-11.7M2218.8 1211.8h4.8M3126.3 1211.8h-4.8M2218.8 1130.3h11.7M3126.3 1130.3h-11.7M2218.8 1048.9h4.8M3126.3 1048.9h-4.8M2218.8 967.4h11.7M3126.3 967.4h-11.7" fill="none" stroke="#0c0c0c" stroke-width="5"/>
<g fill="none" stroke-width="3.7" stroke-linejoin="round" stroke-linecap="butt">
<path stroke="#45464c" stroke-width="3.1" d="M2216.3 1619.2H2471.5"/>
<path stroke="#45464c" d="M2470 1618.7C2471 1618.5 2474.4 1618.1 2476 1617.6C2477.6 1617.1 2477.4 1617.5 2479.4 1615.7C2481.4 1613.9 2484.7 1610 2488 1606.9C2491.3 1603.9 2494.2 1601.8 2499.1 1597.3C2504 1592.8 2511.4 1585.4 2517.5 1580C2523.6 1574.5 2529.6 1569.7 2535.9 1564.5C2542.2 1559.2 2548.6 1553.4 2555.5 1548.3C2562.4 1543.3 2570.7 1538.4 2577.6 1534.2C2584.5 1529.9 2589.8 1527.1 2597.2 1523C2604.6 1519 2613.8 1513.8 2621.8 1509.9C2629.8 1506 2641.2 1501.3 2645.1 1499.6L2646.3 1457.9C2647.5 1456.8 2649.6 1454.2 2653.7 1451.1C2657.8 1448.1 2663.9 1444 2670.9 1439.6C2677.9 1435.2 2687.2 1429.8 2695.4 1424.8C2703.6 1419.8 2711.7 1415.2 2719.9 1409.7C2728.1 1404.3 2736.3 1398.6 2744.5 1392.2C2752.7 1385.7 2762.4 1376.6 2769 1370.8C2775.6 1365.1 2777.4 1363.3 2783.8 1357.8C2790.2 1352.3 2799.8 1344.1 2807.7 1337.6C2815.6 1331 2823.6 1324.8 2831.5 1318.6C2839.4 1312.4 2847.5 1306.4 2855.4 1300.5C2863.3 1294.6 2871.3 1288.5 2879.2 1283.1C2887.1 1277.8 2895.1 1273.1 2903 1268.5C2910.9 1263.9 2919 1259.6 2926.9 1255.6C2934.8 1251.5 2944.1 1247.5 2950.7 1244.5C2957.2 1241.4 2963.6 1238.5 2966.2 1237.3L2966.9 1231.4L2968.6 1236.1C2973.6 1234.3 2989.5 1228.8 2998.4 1225.4C3007.3 1222 3014.2 1219.3 3022.2 1215.9C3030.1 1212.5 3038.1 1208.7 3046.1 1205.1C3054.1 1201.5 3066 1196.1 3070 1194.3"/>
<path stroke="#dc3448" stroke-width="3.1" d="M2216.3 1619.2H2513.5"/>
<path stroke="#dc3448" d="M2512 1618.7C2513 1618.5 2516.5 1618.1 2518 1617.6C2519.5 1617 2519 1618 2521.2 1615.5C2523.4 1613 2526.5 1607.5 2531 1602.7C2535.5 1597.9 2542.1 1592.1 2548.2 1586.7C2554.3 1581.2 2560.5 1575.9 2567.8 1569.8C2575.2 1563.7 2584.1 1556.3 2592.3 1549.9C2600.5 1543.5 2608.7 1536.7 2616.9 1531.4C2625.1 1526.1 2633.4 1522.2 2641.4 1518.3C2649.4 1514.4 2660.8 1509.9 2664.7 1508.2C2665.9 1504.9 2669.8 1496.2 2672.1 1488.6C2674.3 1481 2677.2 1467.1 2678.2 1462.8C2679 1461.9 2680.1 1459.5 2683 1457.4C2685.9 1455.3 2689.2 1453.8 2695.4 1450.3C2701.6 1446.7 2711.7 1440.8 2719.9 1436C2728.1 1431.2 2736.3 1427 2744.5 1421.8C2752.7 1416.5 2762.4 1409.5 2769 1404.3C2775.6 1399 2777.4 1396.2 2783.8 1390.4C2790.2 1384.7 2799.8 1376.4 2807.7 1369.8C2815.6 1363.2 2823.6 1356.9 2831.5 1350.8C2839.4 1344.6 2847.5 1338.6 2855.4 1332.9C2863.3 1327.1 2871.3 1321.5 2879.2 1316.2C2887.1 1310.8 2895.1 1305.6 2903 1300.9C2910.9 1296.1 2919 1291.7 2926.9 1287.8C2934.8 1283.8 2942.8 1280.3 2950.7 1277C2958.6 1273.8 2966.6 1271.2 2974.5 1268.3C2982.4 1265.4 2990.5 1262.8 2998.4 1259.8C3006.3 1256.8 3014.2 1253.6 3022.2 1250.6C3030.1 1247.6 3040.1 1244.2 3046.1 1242C3052.1 1239.7 3056 1238.1 3058 1237.3L3059.9 1221.8L3062.3 1234.5L3070.1 1233.6"/>
<path stroke="#3a66c0" stroke-width="3.1" d="M2216.3 1619.2H2572.5"/>
<path stroke="#3a66c0" d="M2571 1618.7C2571.8 1618.5 2574.7 1618.1 2576 1617.6C2577.3 1617.1 2576.1 1618.7 2578.8 1615.6C2581.5 1612.6 2587.2 1604.4 2592.3 1599.3C2597.4 1594.1 2602.6 1590.7 2609.5 1584.6C2616.4 1578.5 2625.8 1568.9 2634 1562.7C2642.2 1556.4 2650.4 1552.2 2658.6 1546.9C2666.8 1541.6 2676.5 1535.3 2683.1 1530.9C2689.7 1526.4 2693.4 1525.2 2697.9 1520.3C2702.4 1515.3 2705.6 1508.4 2710.1 1501.2C2714.6 1493.9 2720.5 1483.3 2724.8 1476.8C2729.1 1470.2 2730.6 1467 2735.9 1462.1C2741.2 1457.2 2749.1 1452 2756.7 1447.4C2764.3 1442.8 2772.8 1439 2781.3 1434.4C2789.8 1429.8 2799.3 1424.5 2807.7 1419.7C2816.1 1414.9 2823.6 1410.2 2831.5 1405.4C2839.4 1400.7 2847.5 1395.9 2855.4 1391.1C2863.3 1386.3 2871.3 1381.5 2879.2 1376.8C2887.1 1372.1 2895.1 1367.3 2903 1362.7C2910.9 1358.1 2919 1353.7 2926.9 1349.4C2934.8 1345.1 2942.8 1340.6 2950.7 1336.6C2958.6 1332.7 2966.6 1329.1 2974.5 1325.5C2982.4 1321.9 2990.5 1318.3 2998.4 1315C3006.3 1311.6 3014.2 1308.5 3022.2 1305.5C3030.1 1302.5 3038.1 1299.7 3046.1 1297C3054.1 1294.3 3066 1290.6 3070 1289.4"/>
<path stroke="#4caf6e" stroke-width="3.1" d="M2216.3 1619.2H2674.5"/>
<path stroke="#4caf6e" d="M2673 1618.7C2673.8 1618.5 2676.4 1618 2677.5 1617.5C2678.6 1617 2677.7 1618.5 2679.4 1615.7C2681.2 1612.8 2683.7 1606.5 2688 1600.4C2692.3 1594.2 2699.1 1585.6 2705.2 1578.8C2711.3 1571.9 2718.2 1565 2724.8 1559.3C2731.4 1553.5 2737.9 1548.7 2744.5 1544.3C2751.1 1540 2758.8 1535.9 2764.1 1533.2C2769.4 1530.5 2773.1 1529.4 2776.4 1528.1C2779.7 1526.9 2780.6 1527.3 2783.7 1525.6C2786.8 1524 2791.2 1521.4 2795.2 1518.5C2799.2 1515.6 2803.7 1511.7 2807.9 1508.3C2812.1 1504.9 2816.3 1501.2 2820.5 1498.3C2824.7 1495.3 2827.5 1493.6 2833.1 1490.7C2838.7 1487.9 2847.2 1484.1 2854.2 1481.3C2861.2 1478.5 2868.2 1476.1 2875.2 1473.8C2882.2 1471.4 2889.2 1469.4 2896.2 1467.3C2903.2 1465.2 2910.3 1463.1 2917.3 1461.1C2924.3 1459.2 2931.3 1457.5 2938.3 1455.9C2945.3 1454.3 2952.4 1452.9 2959.4 1451.4C2966.4 1449.9 2973.4 1448.4 2980.4 1446.9C2987.4 1445.4 2994.5 1444 3001.5 1442.5C3008.5 1440.9 3015.5 1439.3 3022.5 1437.8C3029.5 1436.2 3035.6 1434.8 3043.5 1433.1C3051.4 1431.5 3065.4 1429 3069.8 1428.1"/>
<path stroke="#bd9128" stroke-width="3.1" d="M2216.3 1619.2H2829.4"/>
<path stroke="#bd9128" d="M2827.9 1618.7C2829.1 1617.2 2831.9 1613.3 2835.2 1609.5C2838.5 1605.7 2843 1599.9 2847.9 1595.9C2852.8 1591.9 2859.4 1588.2 2864.7 1585.4C2869.9 1582.6 2874.2 1581 2879.4 1578.9C2884.7 1576.8 2889.9 1574.8 2896.2 1572.8C2902.5 1570.9 2910.3 1569 2917.3 1567.2C2924.3 1565.3 2931.3 1563.4 2938.3 1561.7C2945.3 1560 2952.4 1558.3 2959.4 1556.8C2966.4 1555.3 2973.4 1553.9 2980.4 1552.5C2987.4 1551.1 2994.5 1549.7 3001.5 1548.3C3008.5 1546.9 3015.5 1545.5 3022.5 1544.4C3029.5 1543.3 3035.6 1542.5 3043.5 1541.7C3051.4 1540.9 3065.4 1539.8 3069.8 1539.4"/>
</g>
<g font-family="'Liberation Serif',serif" font-weight="bold" font-size="32.3" fill="#0c0c0c">
<text x="2216.5" y="1661.8" text-anchor="middle">0.0</text>
<text x="2368.5" y="1661.8" text-anchor="middle">0.1</text>
<text x="2520.5" y="1661.8" text-anchor="middle">0.2</text>
<text x="2672.6" y="1661.8" text-anchor="middle">0.3</text>
<text x="2824.6" y="1661.8" text-anchor="middle">0.4</text>
<text x="2976.6" y="1661.8" text-anchor="middle">0.5</text>
<text x="3128.6" y="1661.8" text-anchor="middle">0.6</text>
<text x="2200.2" y="1629.4" text-anchor="end">0</text>
<text x="2200.2" y="1466.5" text-anchor="end">10</text>
<text x="2200.2" y="1303.5" text-anchor="end">20</text>
<text x="2200.2" y="1140.5" text-anchor="end">30</text>
<text x="2200.2" y="977.6" text-anchor="end">40</text>
</g>
<text font-family="'Liberation Serif',serif" font-weight="bold" font-size="48" fill="#0c0c0c" x="2672.6" y="1733.8" text-anchor="middle" letter-spacing="0.3">Current (A)</text>
<text font-family="'Liberation Serif',serif" font-weight="bold" font-size="48" fill="#0c0c0c" transform="translate(2148.9 1252.8) rotate(-90)" text-anchor="middle" letter-spacing="0.3">Power/facet (mW)</text>
<g font-family="'Liberation Serif',serif" font-weight="bold" font-size="34.5" fill="#0c0c0c">
<text x="2248.4" y="947.1">GaSb,3QW,CW,V<tspan dx="1" dy="10.3" font-size="30.5">a</tspan><tspan dx="1" dy="-10.3">= -2V</tspan></text>
<text x="2248.4" y="1005.5">5x3520μm<tspan dy="-13.4" font-size="24">2</tspan></text>
<text x="2248.4" y="1049">L<tspan dy="8.5" font-size="23">g</tspan><tspan dy="-8.5">=3178μm</tspan></text>
<text x="2248.4" y="1100.6">L<tspan dy="8.5" font-size="23">a</tspan><tspan dy="-8.5">=332μm</tspan></text>
</g>
<g font-family="'Liberation Serif',serif" font-weight="bold" font-size="35.5" fill="#0c0c0c">
<text x="3030.9" y="1171.4">20<tspan dx="-1.4" dy="3.0" font-size="37">°</tspan><tspan dx="-1.8" dy="-3.0">C</tspan></text>
<text x="3031.7" y="1279.8">30<tspan dx="-1.4" dy="3.0" font-size="37">°</tspan><tspan dx="-1.8" dy="-3.0">C</tspan></text>
<text x="3032.9" y="1336.3">40<tspan dx="-1.4" dy="3.0" font-size="37">°</tspan><tspan dx="-1.8" dy="-3.0">C</tspan></text>
<text x="3036" y="1468.1">60<tspan dx="-1.4" dy="3.0" font-size="37">°</tspan><tspan dx="-1.8" dy="-3.0">C</tspan></text>
<text x="3036.4" y="1579.2">80<tspan dx="-1.4" dy="3.0" font-size="37">°</tspan><tspan dx="-1.8" dy="-3.0">C</tspan></text>
</g>
<text font-family="'Liberation Serif',serif" font-weight="bold" font-size="70" fill="#0c0c0c" x="3036.7" y="945.4">(e)</text>
</g>
</svg></body></html>
